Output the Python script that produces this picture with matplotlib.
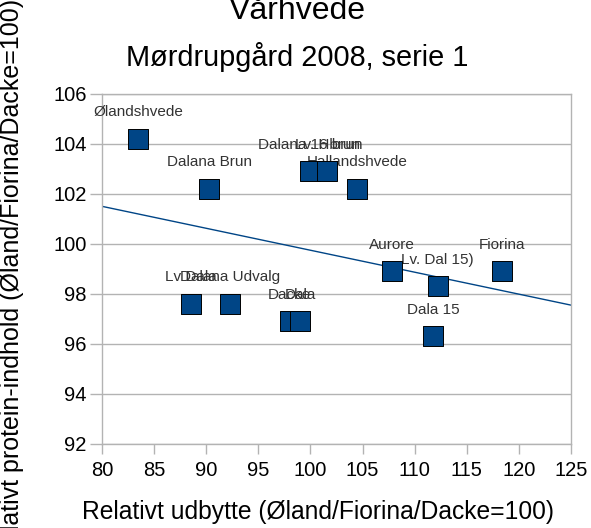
import matplotlib
matplotlib.use("Agg")
import matplotlib.pyplot as plt
import numpy as np

plt.rcParams['font.family'] = ['Liberation Sans', 'DejaVu Sans']

labels = ["Ølandshvede", "Dalana Brun", "Dalana 16 brun", "Lv. Hbrun", "Hallandshvede",
          "Lv Dala", "Dalana Udvalg", "Dacke", "Dala", "Aurore", "Lv. Dal 15)",
          "Dala 15", "Fiorina"]
yield_rel = [83.5, 90.3, 100.0, 101.6, 104.5, 88.5, 92.3, 98.0, 99.0, 107.8, 112.2, 111.8, 118.4]
protein_rel = [104.2, 102.2, 102.9, 102.9, 102.2, 97.6, 97.6, 96.9, 96.9, 98.9, 98.3, 96.3, 98.9]

xticks = [80, 85, 90, 95, 100, 105, 110, 115, 120, 125]
yticks = [92, 94, 96, 98, 100, 102, 104, 106]

W, H = 591, 528
fig = plt.figure(figsize=(W / 100, H / 100), dpi=100)
left, right, top, bottom = 102, 571, 93.5, 443.5
ax = fig.add_axes([left / W, 1 - bottom / H, (right - left) / W, (bottom - top) / H])

blue = "#004586"
grid_c = "#b3b3b3"

ax.set_xlim(80, 125)
ax.set_ylim(92, 106)
ax.set_xticks(xticks)
ax.set_yticks(yticks)
ax.grid(axis='y', color=grid_c, linewidth=1)
ax.set_axisbelow(True)
for s in ax.spines.values():
    s.set_color(grid_c)
    s.set_linewidth(1)
ax.tick_params(axis='x', colors=grid_c, labelcolor='#000000', length=7.5, width=1,
               labelsize=14.5, pad=5)
ax.tick_params(axis='y', colors=grid_c, labelcolor='#000000', length=9, width=1,
               labelsize=14.5, pad=2)

# trend line
coef = np.polyfit(yield_rel, protein_rel, 1)
xx = np.array([80, 125])
ax.plot(xx, np.polyval(coef, xx), color=blue, linewidth=1, zorder=2)

ax.scatter(yield_rel, protein_rel, marker='s', s=190, color=blue, edgecolor='#000000',
           linewidth=0.7, zorder=4, clip_on=False)

for lab, x, y in zip(labels, yield_rel, protein_rel):
    ax.annotate(lab, (x, y), xytext=(0, 19), textcoords='offset points', ha='center',
                va='center', fontsize=11, color='#333333', zorder=3)

fig.text(297 / W, 1 - 19 / H, "Vårhvede", ha='center', va='baseline', fontsize=23)
fig.text(297 / W, 1 - 66 / H, "Mørdrupgård 2008, serie 1", ha='center', va='baseline', fontsize=20.8)
fig.text(318 / W, 1 - 512 / H, "Relativt udbytte (Øland/Fiorina/Dacke=100)", ha='center',
         va='center', fontsize=17.7)
fig.text(12 / W, 1 - 280 / H, "Relativt protein-indhold (Øland/Fiorina/Dacke=100)", ha='center',
         va='center', rotation=90, fontsize=18)

fig.savefig("out.png", dpi=100)
